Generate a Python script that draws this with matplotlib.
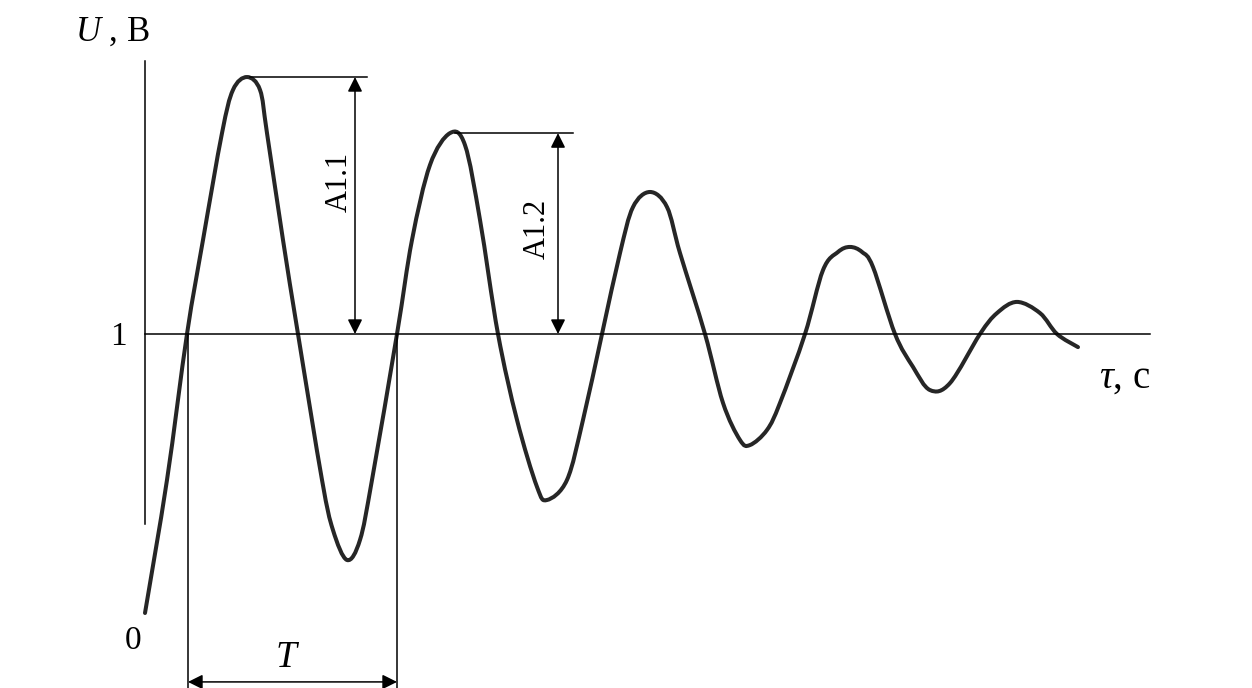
import matplotlib
matplotlib.use("Agg")
import matplotlib.pyplot as plt
import numpy as np
from matplotlib.path import Path
from matplotlib.patches import PathPatch

# damped transient U(tau)
tau = [0.00, 0.22, 0.42, 0.58, 0.77, 0.88, 1.02, 1.15, 1.22, 1.38, 1.53, 1.77, 1.88,
       2.02, 2.15, 2.27, 2.52, 2.67, 2.85, 3.05, 3.20, 3.35, 3.53, 3.72, 3.92, 4.02,
       4.22, 4.38, 4.57, 4.75, 4.88, 5.05, 5.22, 5.35, 5.60, 5.78, 5.95, 6.05, 6.22,
       6.35, 6.60, 6.78, 6.93, 7.05, 7.17, 7.28, 7.50, 7.68, 7.85, 8.05, 8.35, 8.52,
       8.72, 8.95, 9.12, 9.33]
u = [0.000, 0.477, 1.000, 1.337, 1.720, 1.875, 1.921, 1.875, 1.720, 1.337, 1.000, 0.477, 0.297,
     0.190, 0.262, 0.477, 1.000, 1.337, 1.606, 1.720, 1.677, 1.409, 1.000, 0.692, 0.452, 0.405,
     0.477, 0.692, 1.000, 1.290, 1.455, 1.509, 1.455, 1.290, 1.000, 0.753, 0.620, 0.602, 0.656,
     0.753, 1.000, 1.229, 1.294, 1.312, 1.294, 1.240, 1.000, 0.882, 0.799, 0.824, 1.000, 1.075,
     1.115, 1.075, 1.000, 0.953]

u_steady = 1.0
tau_end = 10.05
u_axis_top = 1.98
u_axis_low = 0.32

# amplitude markers: peak value, where the arrow stands, extent of the peak line
a11_peak, a11_x, a11_line = 1.921, 2.10, (1.05, 2.22)
a12_peak, a12_x, a12_line = 1.720, 4.13, (3.10, 4.28)

# period T between two upward crossings
t_start, t_stop = 0.43, 2.52
t_arrow_u = -0.247

plt.rcParams['font.family'] = ['Liberation Serif', 'DejaVu Serif']
plt.rcParams['mathtext.fontset'] = 'custom'
plt.rcParams['mathtext.rm'] = 'Liberation Serif'
plt.rcParams['mathtext.it'] = 'Liberation Serif:italic'


def smooth_path(xs, ys):
    # catmull-rom through the read points, handed to matplotlib as cubic beziers
    p = np.column_stack([xs, ys])
    verts = [p[0]]
    codes = [Path.MOVETO]
    n = len(p)
    for i in range(n - 1):
        p0 = p[i - 1] if i > 0 else p[i]
        p3 = p[i + 2] if i + 2 < n else p[i + 1]
        c1 = p[i] + (p[i + 1] - p0) / 6
        c2 = p[i + 1] - (p3 - p[i]) / 6
        verts += [c1, c2, p[i + 1]]
        codes += [Path.CURVE4] * 3
    return Path(verts, codes)


fig = plt.figure(figsize=(12.52, 6.88), dpi=100)
ax = fig.add_axes([0, 0, 1, 1])
ax.set_xlim(-1.45, 11.07)
ax.set_ylim(-0.2688, 2.1971)
ax.axis('off')

thin = dict(color='black', lw=1.1)
arrow = dict(arrowstyle='<|-|>', color='black', lw=1.1,
             mutation_scale=22, shrinkA=0, shrinkB=0)

# axes of the sketch
ax.plot([0, 0], [u_axis_low, u_axis_top], **thin)
ax.plot([0, tau_end], [u_steady, u_steady], **thin)

# the curve
ax.add_patch(PathPatch(smooth_path(tau, u), facecolor='none', edgecolor='#262626',
                       lw=2.9, joinstyle='round', capstyle='round'))

# amplitude A1.1
ax.plot(a11_line, [a11_peak, a11_peak], **thin)
ax.annotate('', xy=(a11_x, a11_peak), xytext=(a11_x, u_steady), arrowprops=arrow)
ax.text(1.94, 1.545, 'A1.1', rotation=90, fontsize=22, ha='center', va='center')

# amplitude A1.2
ax.plot(a12_line, [a12_peak, a12_peak], **thin)
ax.annotate('', xy=(a12_x, a12_peak), xytext=(a12_x, u_steady), arrowprops=arrow)
ax.text(3.92, 1.376, 'A1.2', rotation=90, fontsize=22, ha='center', va='center')

# period T
for t in (t_start, t_stop):
    ax.plot([t, t], [u_steady, -0.2688], **thin)
ax.annotate('', xy=(t_start, t_arrow_u), xytext=(t_stop, t_arrow_u), arrowprops=arrow)
ax.text(1.43, -0.161, '$T$', fontsize=27, ha='center', va='center')

# labels
ax.text(-0.33, 2.082, '$U$ , B', fontsize=25, ha='center', va='center')
ax.text(-0.27, 0.989, '1', fontsize=24, ha='center', va='center')
ax.text(-0.12, -0.10, '0', fontsize=24, ha='center', va='center')
ax.text(9.80, 0.842, r'$\tau$, c', fontsize=28, ha='center', va='center')

fig.savefig('out.png', dpi=100)
